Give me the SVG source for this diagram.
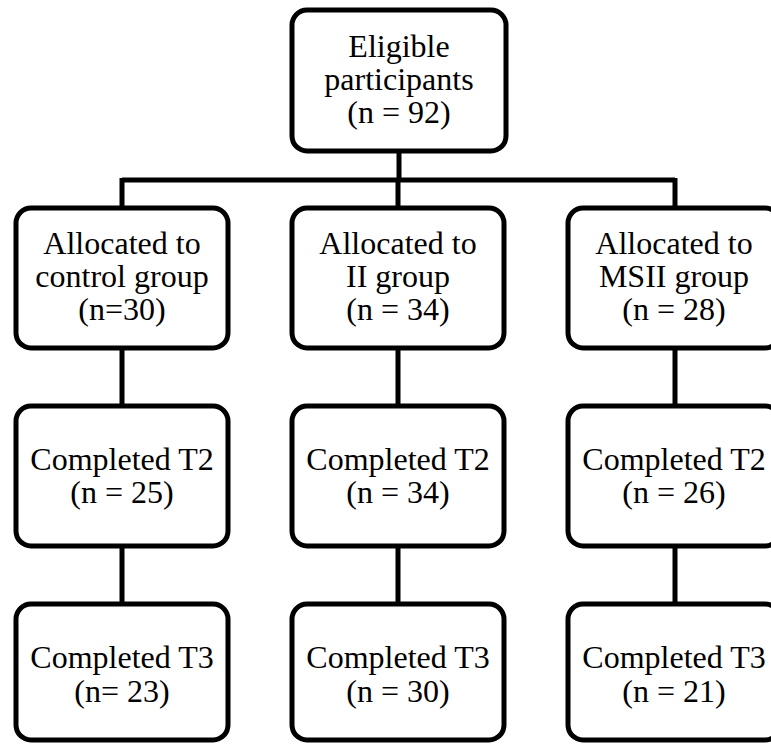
<svg xmlns="http://www.w3.org/2000/svg" width="771" height="745" viewBox="0 0 771 745">
<style>
.box{fill:#fff;stroke:#000;stroke-width:5}
.ln{stroke:#000;stroke-width:5;fill:none}
text{font-family:"Liberation Serif","Times New Roman",serif;font-size:32px;fill:#000;text-anchor:middle}
</style>
<rect width="771" height="745" fill="#fff"/>
<g id="connectors">
<path class="ln" d="M399 151 V180 M122 180 H675 M122 178 V208 M398 180 V208 M675 178 V208"/>
<path class="ln" d="M122 348 V406 M398 348 V406 M675 348 V406"/>
<path class="ln" d="M122 546 V604 M398 546 V604 M675 546 V604"/>
</g>
<g id="eligible">
<rect class="box" x="292" y="10" width="214" height="141" rx="15"/>
<text x="399" y="57">Eligible</text>
<text x="399" y="90">participants</text>
<text x="399" y="123">(n = 92)</text>
</g>
<g id="alloc-control">
<rect class="box" x="16" y="208" width="212" height="140" rx="15"/>
<text x="122" y="254">Allocated to</text>
<text x="122" y="287">control group</text>
<text x="122" y="320">(n=30)</text>
</g>
<g id="alloc-ii">
<rect class="box" x="292" y="208" width="212" height="140" rx="15"/>
<text x="398" y="254">Allocated to</text>
<text x="398" y="287">II group</text>
<text x="398" y="320">(n = 34)</text>
</g>
<g id="alloc-msii">
<rect class="box" x="568" y="208" width="212" height="140" rx="15"/>
<text x="674" y="254">Allocated to</text>
<text x="674" y="287">MSII group</text>
<text x="674" y="320">(n = 28)</text>
</g>
<g id="t2-control">
<rect class="box" x="16" y="406" width="212" height="140" rx="15"/>
<text x="122" y="470">Completed T2</text>
<text x="122" y="503">(n = 25)</text>
</g>
<g id="t2-ii">
<rect class="box" x="292" y="406" width="212" height="140" rx="15"/>
<text x="398" y="470">Completed T2</text>
<text x="398" y="503">(n = 34)</text>
</g>
<g id="t2-msii">
<rect class="box" x="568" y="406" width="212" height="140" rx="15"/>
<text x="674" y="470">Completed T2</text>
<text x="674" y="503">(n = 26)</text>
</g>
<g id="t3-control">
<rect class="box" x="16" y="604" width="212" height="136" rx="15"/>
<text x="122" y="668">Completed T3</text>
<text x="122" y="702">(n= 23)</text>
</g>
<g id="t3-ii">
<rect class="box" x="292" y="604" width="212" height="136" rx="15"/>
<text x="398" y="668">Completed T3</text>
<text x="398" y="702">(n = 30)</text>
</g>
<g id="t3-msii">
<rect class="box" x="568" y="604" width="212" height="136" rx="15"/>
<text x="674" y="668">Completed T3</text>
<text x="674" y="702">(n = 21)</text>
</g>
</svg>
